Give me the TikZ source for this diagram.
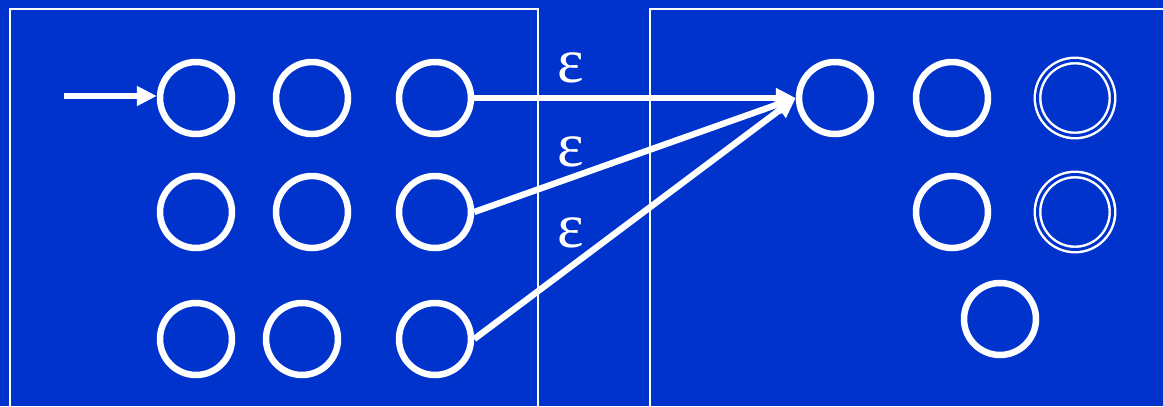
\documentclass[tikz,border=0pt]{standalone}
\usepackage{fontspec}
\setmainfont{Liberation Serif}
\usetikzlibrary{arrows.meta}

\definecolor{fond}{RGB}{0,51,204}

\tikzset{
  etat/.style={circle, draw=white, line width=3.7pt,
    minimum size=1.44cm, inner sep=0pt},
  final/.style={circle, draw=white, line width=1.4pt,
    double=fond, double distance=1.7pt,
    minimum size=1.5cm, inner sep=0pt},
  trans/.style={-{Triangle[length=0.4cm,width=0.38cm]},
    white, line width=3.6pt},
  eps/.style={text=white, inner sep=0pt,
    font=\fontsize{36}{36}\selectfont},
  cadre/.style={white, line width=1.1pt}
}

\begin{document}
\begin{tikzpicture}[x=0.02cm,y=-0.02cm]

% Fond
\fill[fond]
(0,0)
rectangle
(1163,406);
\useasboundingbox
(0,0)
rectangle
(1163,406);

% Cadres
\draw[cadre]
(10,406)
-- (10,9)
-- (538,9)
-- (538,406);

\draw[cadre]
(1163,9)
-- (650,9)
-- (650,406);

% Premier automate
\node[etat] (q0) at (196,98) {};
\node[etat] (q1) at (312,98) {};
\node[etat] (q2) at (435,98) {};
\node[etat] (q3) at (196,212) {};
\node[etat] (q4) at (312,212) {};
\node[etat] (q5) at (435,212) {};
\node[etat] (q6) at (196,339) {};
\node[etat] (q7) at (302,339) {};
\node[etat] (q8) at (435,339) {};

% Second automate
\node[etat] (r0) at (835,98) {};
\node[etat] (r1) at (952,98) {};
\node[final] (r2) at (1075,98) {};
\node[etat] (r3) at (952,212) {};
\node[final] (r4) at (1075,212) {};
\node[etat] (r5) at (1000,319) {};

% Etat initial
\coordinate (init) at (64,96);
\draw[trans]
(init)
--
(init -| q0.west);

% Transitions epsilon
\draw[trans] (q2.east) -- (r0.west);
\draw[trans] (q5.east) -- (r0.west);
\draw[trans] (q8.east) -- (r0.west);

\node[eps] (e1) at (571,68) {ε};
\node[eps] (e2) at (571,152) {ε};
\node[eps] (e3) at (571,233) {ε};

\end{tikzpicture}
\end{document}
